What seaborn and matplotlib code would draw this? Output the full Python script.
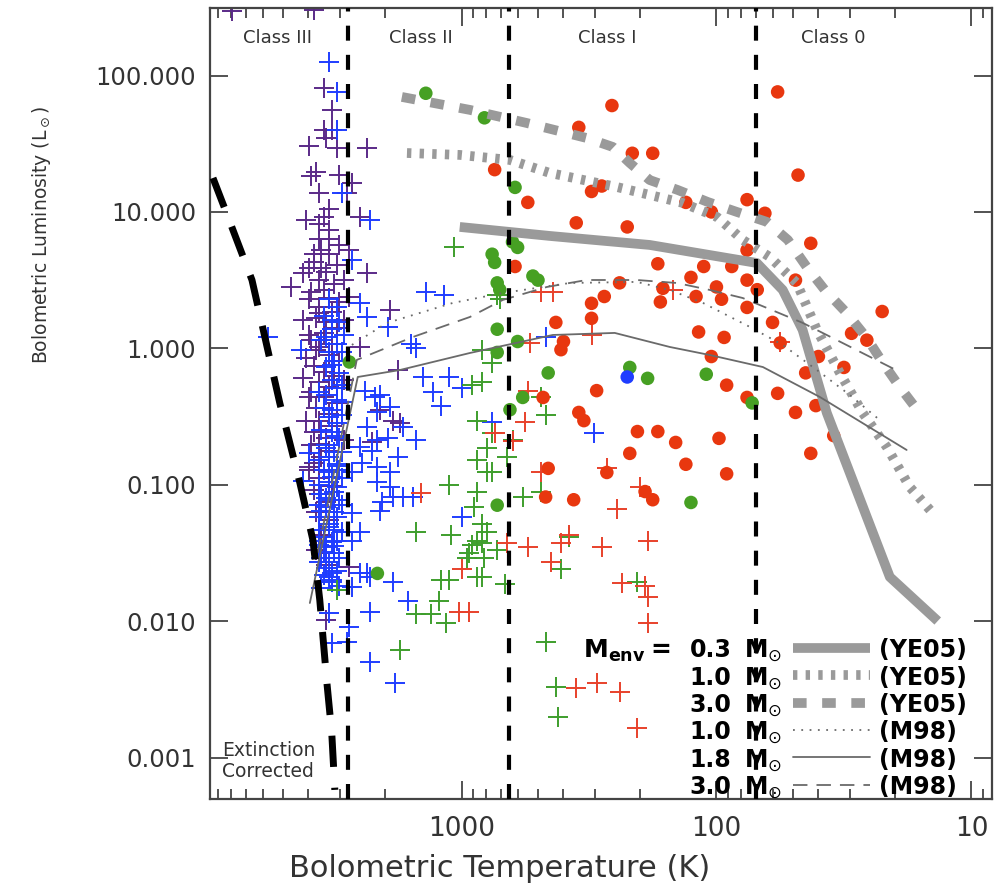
import numpy as np
import pandas as pd
import matplotlib
matplotlib.use("Agg")
import matplotlib.pyplot as plt
import seaborn as sns
from matplotlib.ticker import FixedLocator, FuncFormatter, NullFormatter, NullLocator

# ---------------------------------------------------------------------------
# Sources: (log10 Tbol [K], log10 Lbol [Lsun])
# ---------------------------------------------------------------------------
purple_crosses = [
    (3.90, 2.47), (3.58, 2.48), (3.54, 1.91), (3.51, 1.75), (3.54, 1.60), (3.51, 1.60),
    (3.53, 1.54), (3.60, 1.48), (3.37, 1.47), (3.49, 1.47), (3.57, 1.29), (3.59, 1.26),
    (3.48, 1.27), (3.43, 1.21), (3.56, 1.14), (3.45, 1.14), (3.52, 1.02), (3.61, 0.94),
    (3.54, 0.96), (3.40, 0.96), (3.52, 0.87), (3.56, 0.80), (3.44, 0.72), (3.60, 0.59),
    (3.62, 0.55), (3.55, 0.59), (3.37, 0.55), (3.67, 0.45), (3.54, 0.43), (3.44, 0.38),
    (3.28, 0.28), (3.56, 0.26), (3.54, 0.11), (3.56, 0.01), (3.40, 0.01), (3.32, -0.45),
    (3.27, -0.53), (3.53, -1.50), (3.44, -1.60), (3.60, -0.87), (3.53, -1.99), (3.24, -0.55),
    (3.35, -0.69), (3.25, -0.16),
]
purple_crosses_core = [
    (3.55, 0.72), (3.52, 0.69), (3.58, 0.63), (3.49, 0.61), (3.53, 0.56), (3.56, 0.50),
    (3.50, 0.47), (3.59, 0.41), (3.52, 0.37), (3.48, 0.34), (3.56, 0.30), (3.51, 0.27),
    (3.57, 0.22), (3.53, 0.19), (3.49, 0.15), (3.60, 0.10), (3.55, 0.06), (3.51, 0.03),
    (3.57, -0.01), (3.52, -0.05), (3.48, -0.09), (3.58, -0.13), (3.54, -0.17), (3.50, -0.20),
    (3.56, -0.25), (3.52, -0.28), (3.59, -0.32), (3.54, -0.36), (3.49, -0.40), (3.57, -0.44),
    (3.52, -0.48), (3.56, -0.53), (3.51, -0.57), (3.58, -0.61), (3.53, -0.66), (3.56, -0.70),
    (3.52, -0.75), (3.55, -0.80), (3.58, -0.84), (3.52, -0.89), (3.56, -0.95), (3.51, -1.01),
    (3.56, -1.07), (3.53, -1.13), (3.57, -1.20), (3.52, -1.26), (3.55, -1.37), (3.57, -1.48),
    (3.53, -1.59), (3.60, 0.36), (3.62, 0.21), (3.59, 0.06), (3.61, -0.07), (3.62, -0.22),
    (3.60, -0.36), (3.61, -0.53), (3.59, -0.71), (3.60, -0.89), (3.58, -1.04), (3.46, 0.50),
    (3.46, 0.21), (3.46, -0.23), (3.46, -0.67), (3.58, 0.69), (3.52, 0.80), (3.48, 0.76),
    (3.56, 0.91),
]
blue_crosses = [
    (3.52, 2.10), (3.49, 1.88), (3.49, 1.60), (3.47, 1.14), (3.36, 0.94), (3.43, 0.65),
    (3.40, 0.33), (3.37, 0.23), (3.29, 0.16), (3.76, 0.08), (3.63, -0.01), (3.38, -0.31),
    (3.32, -0.34), (3.28, -0.43), (3.37, -0.58), (3.29, -0.66), (3.40, -0.72), (3.35, -0.75),
    (3.25, -0.80), (3.60, -0.77), (3.39, -0.84), (3.62, -0.97), (3.43, -0.91), (3.33, -0.98),
    (3.27, -1.09), (3.32, -1.19), (3.43, -1.21), (3.40, -1.35), (3.43, -1.41), (3.40, -1.65),
    (3.36, -1.68), (3.27, -1.71), (3.51, -1.70), (3.43, -1.75), (3.52, -1.94), (3.36, -1.93),
    (3.44, -2.04), (3.51, -2.16), (3.45, -2.15), (3.36, -2.30), (3.26, -2.45), (3.21, -1.85),
    (3.14, 0.41), (3.07, 0.39), (3.20, 0.03), (3.18, 0.00), (3.15, -0.21), (3.05, -0.21),
    (3.11, -0.32), (3.00, -0.29), (3.08, -0.42), (3.23, -0.58), (3.18, -0.67), (3.28, -0.91),
    (3.23, -1.09), (3.19, -1.09), (3.00, -1.24), (2.88, -0.54), (2.67, 0.08), (2.48, -0.62),
    (3.34, -0.36), (3.33, -0.47), (3.33, -0.67), (3.33, -0.87), (3.28, -1.02), (3.31, -1.13),
    (3.37, -1.65),
]
blue_crosses_core = [
    (3.52, 0.36), (3.49, 0.30), (3.54, 0.24), (3.48, 0.19), (3.51, 0.14), (3.53, 0.08),
    (3.49, 0.03), (3.52, -0.03), (3.50, -0.09), (3.53, -0.14), (3.48, -0.18), (3.51, -0.23),
    (3.49, -0.29), (3.53, -0.34), (3.47, -0.39), (3.51, -0.45), (3.52, -0.50), (3.49, -0.55),
    (3.51, -0.61), (3.48, -0.66), (3.53, -0.71), (3.50, -0.76), (3.52, -0.80), (3.49, -0.85),
    (3.54, -0.89), (3.51, -0.94), (3.52, -0.98), (3.49, -1.02), (3.55, -1.07), (3.51, -1.11),
    (3.53, -1.16), (3.50, -1.20), (3.56, -1.24), (3.52, -1.29), (3.50, -1.33), (3.54, -1.38),
    (3.51, -1.42), (3.53, -1.46), (3.50, -1.50), (3.55, -1.54), (3.52, -1.57), (3.53, -1.61),
    (3.51, -1.65), (3.52, -1.68), (3.56, -1.44), (3.56, -1.33), (3.49, -1.41), (3.48, -1.11),
    (3.56, -1.15), (3.48, -0.89),
    (3.55, -0.60), (3.49, -0.64), (3.53, -0.73), (3.47, -0.76), (3.56, -0.82), (3.49, -0.86),
    (3.52, -0.91), (3.47, -0.95), (3.56, -1.00), (3.50, -1.05), (3.53, -1.10), (3.47, -1.15),
    (3.55, -1.19), (3.49, -1.24), (3.52, -1.31), (3.47, -1.35), (3.56, -1.41), (3.50, -1.45),
    (3.54, -1.49), (3.48, -1.54), (3.56, -1.57), (3.49, -1.63), (3.54, -1.66), (3.51, -1.71),
    (3.48, -1.74), (3.55, -1.76), (3.49, -0.38), (3.54, -0.44), (3.47, -0.49), (3.56, -0.32),
    (3.47, -0.27), (3.51, -0.12), (3.47, -0.03), (3.55, 0.06), (3.46, 0.10), (3.51, 0.21),
]
green_crosses = [
    (3.03, 0.74), (2.86, 0.39), (2.85, 0.36), (2.92, -0.01), (2.88, -0.11), (2.96, -0.27),
    (2.92, -0.25), (2.94, -0.53), (2.69, -0.36), (2.67, -0.49), (2.88, -0.62), (2.90, -0.73),
    (2.80, -0.67), (2.82, -0.80), (2.94, -0.82), (2.90, -0.91), (2.88, -0.91), (3.05, -1.00),
    (2.94, -1.05), (2.76, -1.09), (2.69, -1.05), (3.18, -1.35), (3.04, -1.37), (2.92, -1.29),
    (2.90, -1.35), (2.94, -1.41), (2.96, -1.44), (2.92, -1.43), (2.97, -1.50), (2.91, -1.54),
    (2.86, -1.48), (2.98, -1.54), (3.08, -1.70), (3.05, -1.70), (2.94, -1.68), (2.92, -1.68),
    (2.83, -1.73), (3.09, -1.85), (3.18, -1.95), (3.12, -1.95), (3.06, -2.01), (3.24, -2.21),
    (2.67, -2.15), (2.63, -2.48), (2.62, -2.70), (2.58, -1.38), (2.61, -1.62), (2.31, -1.71),
    (3.49, -1.77), (2.95, -1.16),
]
red_crosses = [
    (2.69, 0.41), (2.64, 0.41), (2.73, 0.04), (2.49, 0.10), (2.17, 0.43), (1.75, 0.05),
    (2.74, -0.31), (2.75, -0.54), (2.87, -0.62), (2.80, -0.68), (2.69, -0.91), (3.16, -1.06),
    (2.43, -0.88), (2.30, -1.02), (2.39, -1.18), (2.82, -1.43), (2.74, -1.46), (2.61, -1.43),
    (2.58, -1.37), (2.65, -1.57), (2.45, -1.46), (2.27, -1.41), (3.00, -1.62), (3.01, -1.93),
    (2.97, -1.93), (2.37, -1.72), (2.28, -1.74), (2.27, -1.82), (2.27, -2.01), (2.55, -2.49),
    (2.47, -2.45), (2.38, -2.52), (2.31, -2.78),
]
red_circles = [
    (2.41, 1.78), (2.54, 1.62), (2.33, 1.43), (2.25, 1.43), (2.87, 1.31), (2.49, 1.15),
    (2.45, 1.19), (2.74, 1.07), (2.12, 1.07), (2.02, 1.00), (1.88, 1.09), (2.55, 0.92),
    (2.35, 0.89), (1.88, 0.72), (2.79, 0.60), (2.23, 0.62), (2.05, 0.60), (1.94, 0.60),
    (2.10, 0.52), (2.38, 0.48), (2.21, 0.44), (2.00, 0.45), (1.88, 0.50), (2.44, 0.38),
    (2.49, 0.33), (2.22, 0.34), (2.08, 0.38), (1.98, 0.36), (1.88, 0.30), (2.49, 0.22),
    (2.63, 0.19), (2.60, 0.05), (2.61, -0.01), (2.07, 0.12), (1.97, 0.08), (2.02, -0.06),
    (1.76, 1.88), (1.68, 1.27), (1.81, 0.99), (1.63, 0.77), (1.69, 0.50), (1.84, 0.43),
    (1.35, 0.27), (1.47, 0.11), (1.41, 0.06), (1.60, -0.06), (1.50, -0.14), (1.65, -0.18),
    (1.76, -0.33), (1.69, -0.47), (1.61, -0.42), (1.54, -0.64), (1.63, -0.77), (1.78, 0.19),
    (1.75, 0.04), (1.96, -0.27), (1.88, -0.36), (2.47, -0.31), (2.54, -0.47), (2.52, -0.53),
    (2.31, -0.61), (2.23, -0.61), (2.16, -0.69), (1.99, -0.66), (2.34, -0.77), (2.66, -0.88),
    (2.43, -0.91), (2.12, -0.85), (1.96, -0.92), (2.28, -1.05), (2.25, -1.11), (2.67, -1.09),
    (2.56, -1.11), (2.68, -0.36),
]
green_circles = [
    (3.14, 1.87), (2.91, 1.69), (2.79, 1.18), (2.80, 0.78), (2.78, 0.74), (2.88, 0.69),
    (2.87, 0.63), (2.72, 0.53), (2.70, 0.50), (2.86, 0.48), (2.85, 0.43), (2.86, 0.14),
    (2.78, 0.05), (2.86, -0.03), (2.66, -0.18), (2.76, -0.36), (2.81, -0.45), (2.86, -1.15),
    (3.33, -1.65), (2.34, -0.14), (2.27, -0.22), (2.04, -0.19), (1.86, -0.40), (2.10, -1.13),
    (3.44, -0.10),
]
blue_circles = [(2.35, -0.21)]

# ---------------------------------------------------------------------------
# Evolutionary tracks: (log10 Tbol, log10 Lbol)
# ---------------------------------------------------------------------------
ye05_m03 = [(3.007, 0.890), (2.654, 0.824), (2.262, 0.758), (1.842, 0.626), (1.740, 0.428),
            (1.662, 0.135), (1.567, -0.474), (1.320, -1.676), (1.132, -1.999)]
ye05_m10 = [(3.214, 1.432), (3.007, 1.418), (2.810, 1.381), (2.654, 1.286), (2.391, 1.183),
            (2.132, 1.066), (1.998, 0.963), (1.897, 0.795), (1.791, 0.670), (1.685, 0.479),
            (1.606, 0.135), (1.516, -0.180), (1.426, -0.474), (1.332, -0.723), (1.242, -1.016),
            (1.152, -1.207)]
ye05_m30 = [(3.234, 1.843), (2.967, 1.748), (2.744, 1.652), (2.509, 1.542), (2.406, 1.476),
            (2.340, 1.359), (2.262, 1.234), (2.152, 1.161), (2.034, 1.073), (1.920, 1.000),
            (1.802, 0.927), (1.720, 0.795), (1.646, 0.597), (1.575, 0.428), (1.489, 0.259),
            (1.410, 0.076), (1.347, -0.107), (1.281, -0.283), (1.203, -0.474)]
m98_m10 = [(3.430, 0.025), (3.293, 0.186), (3.034, 0.333), (2.838, 0.406), (2.575, 0.479),
           (2.312, 0.487), (2.183, 0.428), (2.053, 0.333), (1.869, 0.157), (1.740, 0.025),
           (1.606, -0.159), (1.477, -0.342), (1.360, -0.525)]
m98_m18 = [(3.595, -1.867), (3.407, -0.210), (3.242, -0.159), (2.967, -0.034), (2.642, 0.098),
           (2.399, 0.113), (2.183, 0.010), (2.026, -0.049), (1.818, -0.137), (1.595, -0.356),
           (1.254, -0.745)]
m98_m30 = [(3.564, -1.500), (3.411, -0.085), (3.191, 0.083), (2.967, 0.230), (2.838, 0.355),
           (2.665, 0.450), (2.509, 0.501), (2.312, 0.501), (2.155, 0.479), (2.026, 0.428),
           (1.897, 0.369), (1.802, 0.296), (1.661, 0.186), (1.505, 0.039), (1.281, -0.173)]
extinction_limit = [(3.975, 1.249), (3.916, 0.963), (3.822, 0.501), (3.713, -0.400),
                    (3.634, -0.987), (3.583, -1.405), (3.556, -1.845), (3.528, -2.453),
                    (3.509, -2.820), (3.497, -3.237)]

class_bounds = [2800, 650, 70]
class_names = ["Class III", "Class II", "Class I", "Class 0"]
class_label_x = [3.72, 3.16, 2.43, 1.54]   # log10 Tbol of label centres

track_masses = ["0.3", "1.0", "3.0", "1.0", "1.8", "3.0"]
track_refs = ["YE05", "YE05", "YE05", "M98", "M98", "M98"]

x_ticks = [10, 100, 1000]
y_ticks = [0.001, 0.01, 0.1, 1, 10, 100]

# ---------------------------------------------------------------------------
sns.set_theme(style="ticks")
plt.rcParams["font.family"] = ["DejaVu Sans"]
plt.rcParams["mathtext.fontset"] = "dejavusans"

fig = plt.figure(figsize=(9.96, 8.92), dpi=100)
ax = fig.add_axes([0.2108, 0.1043, 0.7852, 0.8868])
ax.set_xscale("log")
ax.set_yscale("log")


def to_frame(pts):
    arr = np.asarray(pts, dtype=float)
    return pd.DataFrame({"tbol": 10 ** arr[:, 0], "lbol": 10 ** arr[:, 1]})


def crosses(pts, color, z):
    sns.scatterplot(data=to_frame(pts), x="tbol", y="lbol", marker="+", s=210,
                    color=color, edgecolor=color, linewidth=1.4, ax=ax,
                    legend=False, zorder=z)


def dots(pts, color, z):
    sns.scatterplot(data=to_frame(pts), x="tbol", y="lbol", marker="o", s=95,
                    color=color, edgecolor="none", linewidth=0, ax=ax,
                    legend=False, zorder=z)


purple = "#5a2a88"
blue = "#1f3dff"
green_c = "#46a023"
red_c = "#e8370f"

crosses(purple_crosses, purple, 2)
crosses(purple_crosses_core, purple, 2)
crosses(blue_crosses, blue, 3)
crosses(blue_crosses_core, blue, 3)
crosses(green_crosses, "#3e9e2c", 3)
crosses(red_crosses, "#e8412b", 3)
dots(red_circles, red_c, 4)
dots(green_circles, green_c, 5)
dots(blue_circles, blue, 5)

track_styles = [
    dict(color="#9a9a9a", lw=7.0, ls="-", solid_capstyle="butt"),
    dict(color="#9a9a9a", lw=7.0, ls=(0, (0.45, 0.85)), dash_capstyle="butt"),
    dict(color="#9a9a9a", lw=7.0, ls=(0, (1.4, 1.6)), dash_capstyle="butt"),
    dict(color="#6a6a6a", lw=1.3, ls=(0, (1.0, 3.6))),
    dict(color="#6a6a6a", lw=1.3, ls="-"),
    dict(color="#6a6a6a", lw=1.3, ls=(0, (8, 5))),
]
for pts, sty in zip([ye05_m03, ye05_m10, ye05_m30, m98_m10, m98_m18, m98_m30], track_styles):
    f = to_frame(pts)
    ax.plot(f["tbol"], f["lbol"], zorder=6, **sty)

ext = to_frame(extinction_limit)
ax.plot(ext["tbol"], ext["lbol"], color="black", lw=5.0, ls=(0, (4.5, 3.0)),
        dash_capstyle="butt", zorder=7)

for tb in class_bounds:
    ax.axvline(tb, color="black", lw=3.0, ls=(0, (3.6, 3.4)), dash_capstyle="butt", zorder=8)

ax.set_xlim(9700, 8.3)
ax.set_ylim(4.97e-4, 313)

for name, lx in zip(class_names, class_label_x):
    ax.text(10 ** lx, 0.962, name, transform=ax.get_xaxis_transform(),
            ha="center", va="center", fontsize=13, color="#333333", zorder=9)

ax.text(0.015, 0.048, "Extinction\nCorrected", transform=ax.transAxes, ha="left",
        va="center", fontsize=13.5, color="#333333", linespacing=1.15, zorder=9)

# Track key
row_y = [0.191 - 0.0346 * i for i in range(6)]
ax.text(0.477, row_y[0], r"$\mathbf{M}_{\mathbf{env}}$", transform=ax.transAxes,
        ha="left", va="center_baseline", fontsize=18, color="black", zorder=9)
ax.text(0.576, row_y[0], "=", transform=ax.transAxes, ha="center",
        va="center_baseline", fontsize=18, fontweight="bold", color="black", zorder=9)
for yy, mass, ref, sty in zip(row_y, track_masses, track_refs, track_styles):
    ax.text(0.667, yy, mass, transform=ax.transAxes, ha="right", va="center_baseline",
            fontsize=17, fontweight="bold", color="black", zorder=9)
    ax.text(0.683, yy, r"$\mathbf{M}_{\odot}$", transform=ax.transAxes, ha="left",
            va="center_baseline", fontsize=17, color="black", zorder=9)
    ax.plot([0.7455, 0.844], [yy, yy], transform=ax.transAxes, zorder=9, **sty)
    ax.text(0.855, yy, f"({ref})", transform=ax.transAxes, ha="left",
            va="center_baseline", fontsize=17, fontweight="bold", color="black", zorder=9)

# Axes styling
ax.xaxis.set_major_locator(FixedLocator(x_ticks))
ax.xaxis.set_major_formatter(FuncFormatter(lambda v, p: f"{v:.0f}"))
ax.xaxis.set_minor_locator(FixedLocator([m * d for d in (1, 10, 100, 1000) for m in range(2, 10)]))
ax.xaxis.set_minor_formatter(NullFormatter())
ax.yaxis.set_major_locator(FixedLocator(y_ticks))
ax.yaxis.set_major_formatter(FuncFormatter(lambda v, p: f"{v:.3f}"))
ax.yaxis.set_minor_locator(NullLocator())

ax.tick_params(which="both", direction="in", top=True, right=True, color="#444444",
               width=1.3)
ax.tick_params(which="major", length=13)
ax.tick_params(which="minor", length=7)
ax.tick_params(axis="x", which="major", labelsize=19, pad=12, labelcolor="#333333")
ax.tick_params(axis="y", which="major", labelsize=17.5, pad=10, labelcolor="#333333")
for sp in ax.spines.values():
    sp.set_linewidth(1.6)
    sp.set_color("#444444")

ax.set_xlabel("Bolometric Temperature (K)", fontsize=22, color="#333333", va="center")
ax.xaxis.set_label_coords(0.37, -0.088)
ax.set_ylabel(r"Bolometric Luminosity (L$_\odot$)", fontsize=13.5, color="#333333",
              va="center")
ax.yaxis.set_label_coords(-0.215, 0.713)

fig.savefig("out.png", dpi=100)
